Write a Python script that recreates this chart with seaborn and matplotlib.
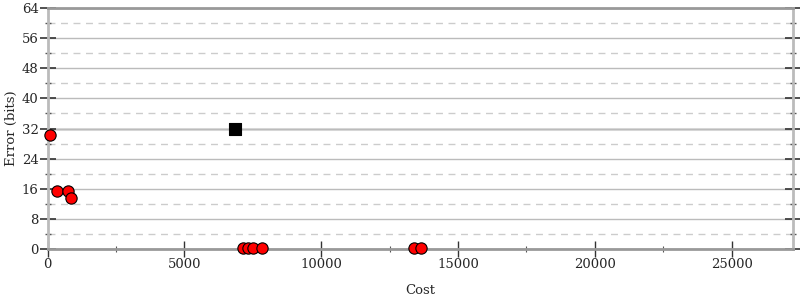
import matplotlib
matplotlib.use("Agg")
import matplotlib.pyplot as plt
import seaborn as sns
import pandas as pd
from matplotlib.ticker import MultipleLocator

# Data
red_cost = [88, 355, 735, 856, 7133, 7338, 7499, 7839, 13408, 13642]
red_error = [30.3, 15.3, 15.3, 13.6, 0.3, 0.3, 0.3, 0.3, 0.2, 0.2]
black_cost = [6856]
black_error = [32.0]

x_max = 27250
y_max = 64

sns.set_theme(style="white")
plt.rcParams['font.family'] = ['DejaVu Serif']

fig = plt.figure(figsize=(8, 3), dpi=100)
ax = fig.add_axes([0.0595, 0.17, 0.932, 0.803])

red_df = pd.DataFrame({"Cost": red_cost, "Error": red_error})
black_df = pd.DataFrame({"Cost": black_cost, "Error": black_error})

ax.set_xlim(0, x_max)
ax.set_ylim(0, y_max)

ax.yaxis.set_major_locator(MultipleLocator(8))
ax.yaxis.set_minor_locator(MultipleLocator(4))
ax.xaxis.set_major_locator(MultipleLocator(5000))
ax.xaxis.set_minor_locator(MultipleLocator(2500))

ax.grid(True, which="major", axis="y", color="#bbbbbb", lw=1, ls="-", zorder=0)
ax.grid(True, which="minor", axis="y", color="#cccccc", lw=1, ls=(0, (5, 4)), zorder=0)
ax.grid(False, axis="x", which="both")
ax.axhline(32, color="#dddddd", lw=2.2, zorder=0.5)

sns.scatterplot(data=red_df, x="Cost", y="Error", ax=ax, color="#ff0000",
                edgecolor="black", linewidth=0.8, s=66, marker="o",
                zorder=3, clip_on=False)
sns.scatterplot(data=black_df, x="Cost", y="Error", ax=ax, color="black",
                edgecolor="black", linewidth=0.8, s=85, marker="s",
                zorder=3, clip_on=False)

for side in ["left", "right"]:
    ax.spines[side].set_color("#bbbbbb")
    ax.spines[side].set_linewidth(2)
for side in ["top", "bottom"]:
    ax.spines[side].set_color("#999999")
    ax.spines[side].set_linewidth(2)

ax.tick_params(axis="y", which="major", direction="inout", length=11, width=1.2,
               color="#333333", left=True, right=True, labelsize=9.5, pad=1)
ax.tick_params(axis="y", which="minor", direction="inout", length=5, width=1,
               color="#555555", left=True, right=True)
ax.tick_params(axis="x", which="major", direction="inout", length=11, width=1,
               color="#333333", bottom=True, top=False, labelsize=9.5, pad=1)
ax.tick_params(axis="x", which="minor", direction="inout", length=5, width=0.8,
               color="#555555", bottom=True, top=False)

ax.set_xlabel("Cost", fontsize=9.5, labelpad=9)
ax.set_ylabel("Error (bits)", fontsize=9.5, labelpad=3)

fig.savefig("out.png", dpi=100)
